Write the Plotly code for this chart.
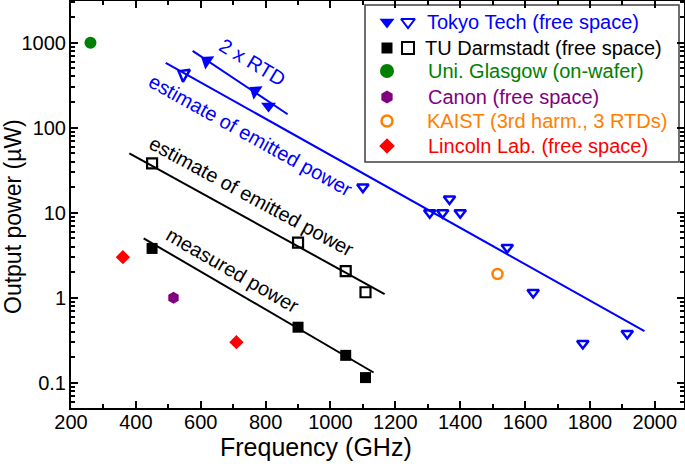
import plotly.graph_objects as go

# ---------------- data ----------------
tokyo_open_x = [548, 1100, 1306, 1346, 1367, 1400, 1545, 1625, 1778, 1915]
tokyo_open_y = [425, 20, 10, 10, 14.5, 10, 3.9, 1.15, 0.29, 0.38]
tokyo_rtd2_x = [619, 768, 809]
tokyo_rtd2_y = [610, 270, 180]
tud_meas_x = [450, 900, 1047, 1108]
tud_meas_y = [3.8, 0.45, 0.21, 0.115]
tud_est_x = [450, 900, 1047, 1108]
tud_est_y = [38, 4.45, 2.06, 1.16]
glasgow_x = [260]
glasgow_y = [1000]
canon_x = [516]
canon_y = [1.0]
kaist_x = [1515]
kaist_y = [1.9]
lincoln_x = [360, 710]
lincoln_y = [3.0, 0.3]

# trend lines (end points)
blue_fit_x = [492, 1968]
blue_fit_y = [580, 0.405]
rtd2_fit_x = [575, 868]
rtd2_fit_y = [800, 144]
tud_est_fit_x = [380, 1167]
tud_est_fit_y = [50, 1.1]
tud_meas_fit_x = [424, 1133]
tud_meas_fit_y = [5.0, 0.132]

x_ticks = [200, 400, 600, 800, 1000, 1200, 1400, 1600, 1800, 2000]
y_tickvals = [0.1, 1, 10, 100, 1000]
y_ticktext = ["0.1", "1", "10", "100", "1000"]

legend_labels = ["Tokyo Tech (free space)", "TU Darmstadt (free space)",
                 "Uni. Glasgow (on-wafer)", "Canon (free space)",
                 "KAIST (3rd harm., 3 RTDs)", "Lincoln Lab. (free space)"]

BLUE = "#0000ff"
BLACK = "#000000"
GREEN = "#008000"
PURPLE = "#800080"
ORANGE = "#ff8000"
RED = "#ff0000"
FONT = "Arial"

W, H = 685, 464
L, R, T, B = 71, 1, 1, 56
PW, PH = W - L - R, H - T - B


def px(x, y):
    return (x - L) / PW, (H - B - y) / PH


fig = go.Figure()

# trend lines
for fx, fy, col in [(blue_fit_x, blue_fit_y, BLUE), (rtd2_fit_x, rtd2_fit_y, BLUE),
                    (tud_est_fit_x, tud_est_fit_y, BLACK), (tud_meas_fit_x, tud_meas_fit_y, BLACK)]:
    fig.add_trace(go.Scatter(x=fx, y=fy, mode="lines", line=dict(color=col, width=2),
                             showlegend=False, hoverinfo="skip"))

# data points
fig.add_trace(go.Scatter(x=tokyo_open_x, y=tokyo_open_y, mode="markers",
                         marker=dict(symbol=["triangle-left-open"] + ["triangle-down-open"] * 9,
                                     angle=[30] + [0] * 9, opacity=1,
                                     size=[12] + [10] * 9, color=BLUE,
                                     line=dict(width=2.5, color=BLUE)),
                         showlegend=False))
fig.add_trace(go.Scatter(x=tokyo_rtd2_x, y=tokyo_rtd2_y, mode="markers",
                         marker=dict(symbol=["triangle-left", "triangle-left", "triangle-down"],
                                     angle=[34, 34, 0], size=[14, 14, 13], color=BLUE,
                                     opacity=1, line=dict(width=0)),
                         showlegend=False))
fig.add_trace(go.Scatter(x=tud_est_x, y=tud_est_y, mode="markers",
                         marker=dict(symbol="square-open", size=10, color=BLACK, opacity=1,
                                     line=dict(width=2.2, color=BLACK)),
                         showlegend=False))
fig.add_trace(go.Scatter(x=tud_meas_x, y=tud_meas_y, mode="markers",
                         marker=dict(symbol="square", size=11, color=BLACK, opacity=1),
                         showlegend=False))
fig.add_trace(go.Scatter(x=glasgow_x, y=glasgow_y, mode="markers",
                         marker=dict(symbol="circle", size=12, color=GREEN, opacity=1),
                         showlegend=False))
fig.add_trace(go.Scatter(x=canon_x, y=canon_y, mode="markers",
                         marker=dict(symbol="hexagon", size=12, color=PURPLE, opacity=1),
                         showlegend=False))
fig.add_trace(go.Scatter(x=kaist_x, y=kaist_y, mode="markers",
                         marker=dict(symbol="circle-open", size=10, color=ORANGE, opacity=1,
                                     line=dict(width=2.5, color=ORANGE)), showlegend=False))
fig.add_trace(go.Scatter(x=lincoln_x, y=lincoln_y, mode="markers",
                         marker=dict(symbol="diamond", size=11, color=RED, opacity=1),
                         showlegend=False))

# ---------------- manual legend (overlay pixel axes) ----------------
leg_rows = [22, 48, 71, 97, 121, 146]
leg_sym_x = [387, 408, 387, 408, 387, 387, 387, 387]
leg_sym_y = [leg_rows[0], leg_rows[0], leg_rows[1], leg_rows[1],
             leg_rows[2], leg_rows[3], leg_rows[4], leg_rows[5]]
leg_syms = ["triangle-down", "triangle-down-open", "square", "square-open",
            "circle", "hexagon", "circle-open", "diamond"]
leg_cols = [BLUE, BLUE, BLACK, BLACK, GREEN, PURPLE, ORANGE, RED]
leg_sizes = [13, 12, 11, 12, 14, 13, 11, 12]
leg_lw = [0, 2, 0, 2, 0, 0, 2.5, 0]
fig.add_trace(go.Scatter(x=leg_sym_x, y=leg_sym_y, xaxis="x2", yaxis="y2", mode="markers",
                         marker=dict(symbol=leg_syms, color=leg_cols, size=leg_sizes, opacity=1,
                                     line=dict(width=leg_lw, color=leg_cols)),
                         showlegend=False, hoverinfo="skip"))

x0, y0 = px(365, 162)
x1, y1 = px(679, 5)
fig.add_shape(type="rect", xref="paper", yref="paper", x0=x0, y0=y0, x1=x1, y1=y1,
              line=dict(color="#404040", width=1.5), fillcolor="white", layer="below")

text_cols = [BLUE, BLACK, GREEN, PURPLE, ORANGE, RED]
text_x = [425, 423, 426, 426, 425, 426]
for lab, col, tx, ty in zip(legend_labels, text_cols, text_x, leg_rows):
    ax_, ay_ = px(tx, ty)
    fig.add_annotation(x=ax_, y=ay_, xref="paper", yref="paper", text=lab, showarrow=False,
                       xanchor="left", yanchor="middle", font=dict(family=FONT, size=20, color=col))

# rotated labels
for txt, cx, cy, ang, col in [("2 x RTD", 252, 62, 31, BLUE),
                              ("estimate of emitted power", 250, 135, 29, BLUE),
                              ("estimate of emitted power", 251, 196, 28.5, BLACK),
                              ("measured power", 232, 270, 30, BLACK)]:
    ax_, ay_ = px(cx, cy)
    fig.add_annotation(x=ax_, y=ay_, xref="paper", yref="paper", text=txt, showarrow=False,
                       textangle=ang, xanchor="center", yanchor="middle",
                       font=dict(family=FONT, size=20, color=col))

# axis titles
ax_, ay_ = px(316, 447)
fig.add_annotation(x=ax_, y=ay_, xref="paper", yref="paper", text="Frequency (GHz)",
                   showarrow=False, xanchor="center", yanchor="middle",
                   font=dict(family=FONT, size=25, color=BLACK))
ax_, ay_ = px(13, 217)
fig.add_annotation(x=ax_, y=ay_, xref="paper", yref="paper", text="Output power (\u00b5W)",
                   showarrow=False, textangle=-90, xanchor="center", yanchor="middle",
                   font=dict(family=FONT, size=23, color=BLACK))

axis_common = dict(showline=True, linecolor=BLACK, linewidth=2, mirror="ticks",
                   ticks="inside", ticklen=7, tickwidth=1.5, tickcolor=BLACK,
                   showgrid=False, zeroline=False, automargin=False,
                   tickfont=dict(family=FONT, size=20, color=BLACK))

fig.update_layout(
    width=W, height=H,
    margin=dict(l=L, r=R, t=T, b=B, autoexpand=False),
    paper_bgcolor="white", plot_bgcolor="white",
    showlegend=False,
    xaxis=dict(range=[200, 2090], tickmode="array", tickvals=x_ticks, ticklabelstandoff=-5,
               minor=dict(ticks="inside", ticklen=4, tickwidth=1.5, dtick=100, tick0=0,
                          tickcolor=BLACK, showgrid=False),
               **axis_common),
    yaxis=dict(type="log", range=[-1.297, 3.49], tickmode="array", tickvals=y_tickvals,
               ticktext=y_ticktext, ticklabelstandoff=-1,
               minor=dict(ticks="inside", ticklen=4, tickwidth=1.5, dtick="D1",
                          tickcolor=BLACK, showgrid=False),
               **axis_common),
    xaxis2=dict(overlaying="x", range=[L, W - R], visible=False),
    yaxis2=dict(overlaying="y", range=[H - B, T], visible=False),
)

fig.write_html("out.html", config={"displayModeBar": False},
               post_script="document.body.style.margin='0px';document.body.style.overflow='hidden';")
